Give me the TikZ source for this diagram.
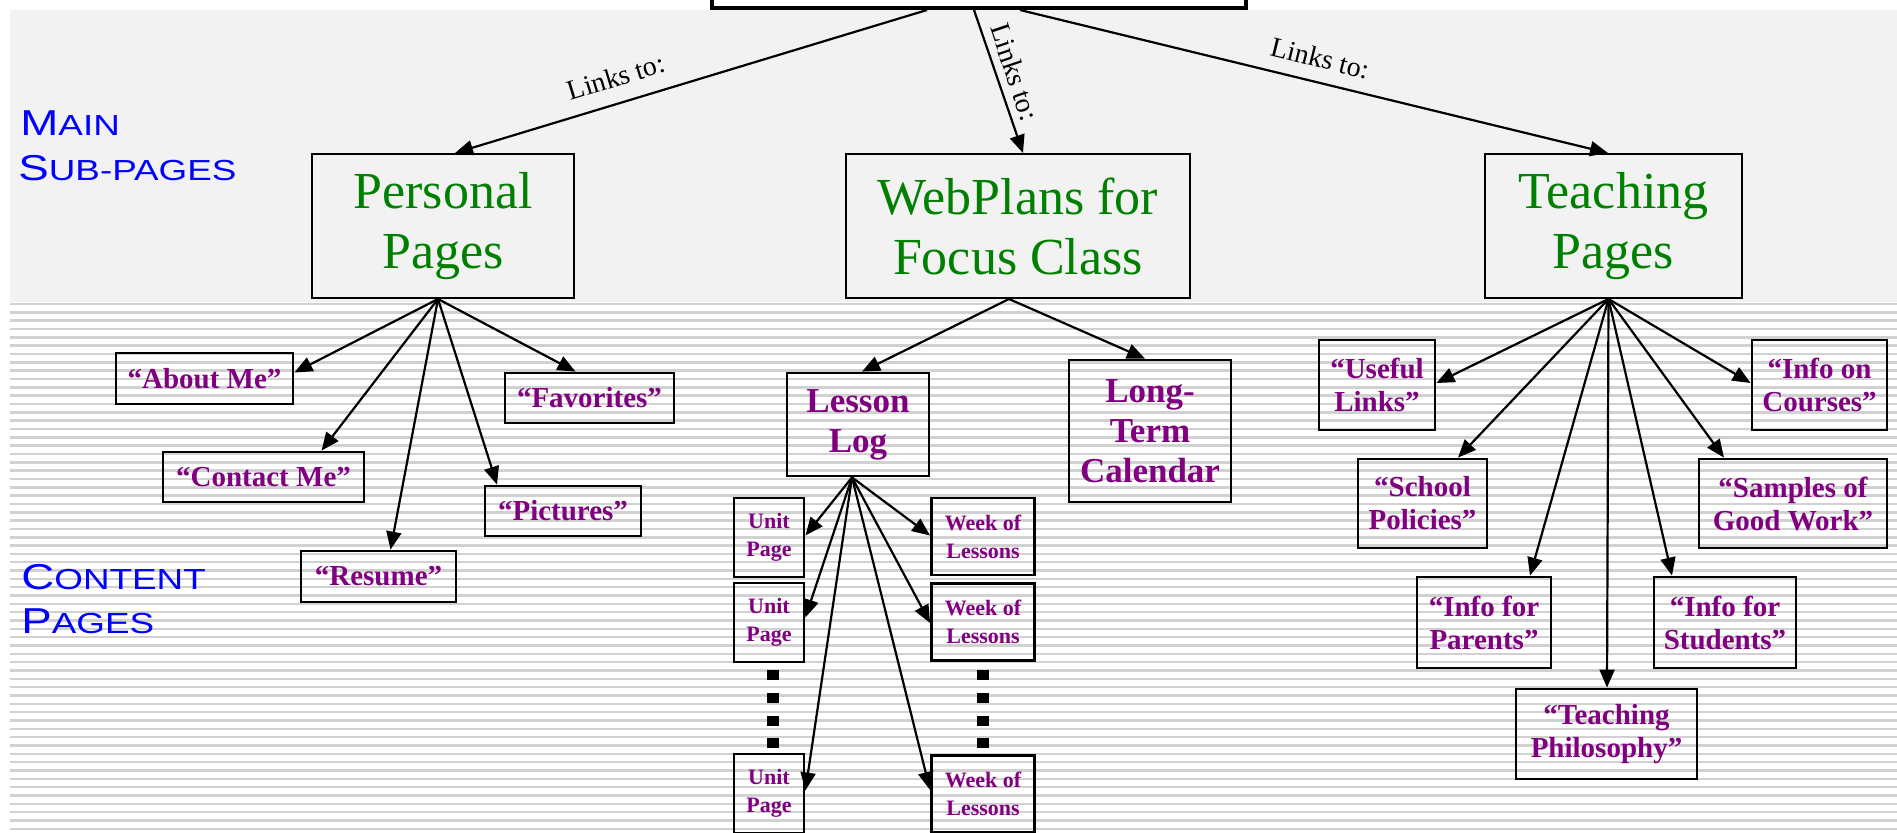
\documentclass[tikz,border=0pt]{standalone}
\usepackage{fontspec}
\setmainfont{Liberation Serif}
\newfontfamily\sidefont[FakeStretch=1.27]{Liberation Sans}
\usetikzlibrary{arrows.meta}
\definecolor{maingreen}{RGB}{0,128,0}
\definecolor{cpurple}{RGB}{128,0,128}
\definecolor{sideblue}{RGB}{0,0,255}
\newcommand\sbig[1]{{\fontsize{18}{20}\selectfont #1}}
\newcommand\ssmall[1]{{\fontsize{14.5}{16}\selectfont #1}}
\begin{document}
\begin{tikzpicture}[x=0.5pt,y=-0.5pt,
  mainbox/.style={draw,line width=1pt,inner sep=0pt,minimum height=72pt,text=maingreen,align=center,font=\fontsize{26}{30}\selectfont},
  cbox/.style={draw,line width=1.4pt,inner sep=0pt,text=cpurple,align=center,font=\bfseries\fontsize{14.5}{16.5}\selectfont},
  lbox/.style={cbox,font=\bfseries\fontsize{17.5}{20}\selectfont},
  ubox/.style={cbox,minimum width=35pt,minimum height=39.5pt,font=\bfseries\fontsize{11}{14}\selectfont},
  wbox/.style={cbox,minimum width=51.5pt,minimum height=38.5pt,font=\bfseries\fontsize{11}{14}\selectfont},
  conn/.style={-{Triangle[length=9pt,width=7.5pt]},line width=1.1pt},
  linklbl/.style={inner sep=0pt,font=\fontsize{14}{16}\selectfont},
  sidelbl/.style={inner sep=0pt,anchor=base west,text=sideblue,font=\sidefont},
  stripe/.style={draw=gray!36,line width=1.25pt},
]
\useasboundingbox (0,0) rectangle (1897,832);
\clip (0,0) rectangle (1897,832);
% backgrounds
\fill[gray!10] (10,10) rectangle (1897,302);
\foreach \k in {0,...,63} \draw[stripe] (10,{304+8.33*\k}) -- (1897,{304+8.33*\k});

% top box
\node[draw,line width=2pt,minimum width=267pt,minimum height=24pt,inner sep=0pt] (home) at (979,-16) {};

% main sub-pages
\node[mainbox,minimum width=131pt] (personal) at (443,226) {Personal\\Pages};
\node[mainbox,minimum width=172pt] (webplans) at (1018,226) {WebPlans for\\Focus Class};
\node[mainbox,minimum width=128.5pt] (teaching) at (1613.5,226) {Teaching\\Pages};

\draw[conn] ([xshift=-26pt]home.south) -- ([xshift=6pt]personal.north);
\draw[conn] ([xshift=-2.5pt]home.south) -- ([xshift=2.5pt]webplans.north);
\draw[conn] ([xshift=20.5pt]home.south) -- ([xshift=-2.75pt]teaching.north);

\node[linklbl,rotate=17] (l1) at (616,77) {Links to:};
\node[linklbl,rotate=-71.5] (l2) at (1015,72) {Links to:};
\node[linklbl,rotate=-14] (l3) at (1320,58) {Links to:};

% side labels
\node[sidelbl] (mainA) at (20,135) {\sbig{M}\ssmall{AIN}};
\node[sidelbl] (mainB) at (18,180) {\sbig{S}\ssmall{UB-PAGES}};
\node[sidelbl] (contA) at (21,589) {\sbig{C}\ssmall{ONTENT}};
\node[sidelbl] (contB) at (21,633) {\sbig{P}\ssmall{AGES}};

% personal children
\node[cbox,minimum width=88.5pt,minimum height=25.5pt] (aboutme) at (204.5,378.5) {“About Me”};
\node[cbox,minimum width=100.5pt,minimum height=25pt] (contactme) at (263.5,477) {“Contact Me”};
\node[cbox,minimum width=77.5pt,minimum height=25.5pt] (resume) at (378.5,576.5) {“Resume”};
\node[cbox,minimum width=78pt,minimum height=25pt] (pictures) at (563,511) {“Pictures”};
\node[cbox,minimum width=84.5pt,minimum height=25pt] (favorites) at (589.5,398) {“Favorites”};

\draw[conn] ([xshift=-2.5pt]personal.south) -- ([yshift=3pt]aboutme.east);
\draw[conn] ([xshift=-2.5pt]personal.south) -- ([xshift=29pt]contactme.north);
\draw[conn] ([xshift=-2.5pt]personal.south) -- ([xshift=6pt]resume.north);
\draw[conn] ([xshift=-2.5pt]personal.south) -- ([xshift=-33pt]pictures.north);
\draw[conn] ([xshift=-2.5pt]personal.south) -- ([xshift=-7pt]favorites.north);

% webplans children
\node[lbox,minimum width=71pt,minimum height=51.5pt] (lessonlog) at (858,424.5) {Lesson\\Log};
\node[lbox,minimum width=81pt,minimum height=71pt] (longterm) at (1150,431) {Long-\\Term\\Calendar};
\draw[conn] ([xshift=-4.5pt]webplans.south) -- ([xshift=2pt]lessonlog.north);
\draw[conn] ([xshift=-4.5pt]webplans.south) -- ([xshift=-2.5pt]longterm.north);

\node[ubox] (unit1) at (769,537.5) {Unit\\Page};
\node[ubox] (unit2) at (769,622.5) {Unit\\Page};
\node[ubox] (unit3) at (769,793.5) {Unit\\Page};
\node[wbox] (week1) at (983,536.5) {Week of\\Lessons};
\node[wbox] (week2) at (983,622) {Week of\\Lessons};
\node[wbox] (week3) at (983,794) {Week of\\Lessons};

\draw[conn] ([xshift=-3pt]lessonlog.south) -- ([yshift=1pt]unit1.east);
\draw[conn] ([xshift=-3pt]lessonlog.south) -- ([yshift=2.5pt]unit2.east);
\draw[conn] ([xshift=-3pt]lessonlog.south) -- ([yshift=1.5pt]unit3.east);
\draw[conn] ([xshift=-3pt]lessonlog.south) -- ([yshift=0.5pt]week1.west);
\draw[conn] ([xshift=-3pt]lessonlog.south) -- ([yshift=-0.5pt]week2.west);
\draw[conn] ([xshift=-3pt]lessonlog.south) -- ([yshift=2pt]week3.west);

\foreach \xx in {773,983} \foreach \yy in {675,698,721,743}
  \fill ({\xx-6},{\yy-5}) rectangle ({\xx+6},{\yy+5});

% teaching children
\node[cbox,minimum width=58pt,minimum height=45pt] (useful) at (1377,385) {“Useful\\Links”};
\node[cbox,minimum width=67.5pt,minimum height=45pt] (courses) at (1819.5,385) {“Info on\\Courses”};
\node[cbox,minimum width=64.5pt,minimum height=44.5pt] (school) at (1422.5,503.5) {“School\\Policies”};
\node[cbox,minimum width=94pt,minimum height=44.5pt] (samples) at (1793,503.5) {“Samples of\\Good Work”};
\node[cbox,minimum width=67pt,minimum height=45.5pt] (parents) at (1484,622.5) {“Info for\\Parents”};
\node[cbox,minimum width=71pt,minimum height=45.5pt] (students) at (1725,622.5) {“Info for\\Students”};
\node[cbox,minimum width=90.5pt,minimum height=45pt] (philosophy) at (1606.5,734) {“Teaching\\Philosophy”};

\draw[conn] ([xshift=-2.5pt]teaching.south) -- ([yshift=1pt]useful.east);
\draw[conn] ([xshift=-2.5pt]teaching.south) -- ([yshift=1pt]courses.west);
\draw[conn] ([xshift=-2.5pt]teaching.south) -- ([xshift=17.75pt]school.north);
\draw[conn] ([xshift=-2.5pt]teaching.south) -- ([xshift=-34.5pt]samples.north);
\draw[conn] ([xshift=-2.5pt]teaching.south) -- ([xshift=23pt]parents.north);
\draw[conn] ([xshift=-2.5pt]teaching.south) -- ([xshift=-26.5pt]students.north);
\draw[conn] ([xshift=-2.5pt]teaching.south) -- ([xshift=0.25pt]philosophy.north);
\end{tikzpicture}
\end{document}
